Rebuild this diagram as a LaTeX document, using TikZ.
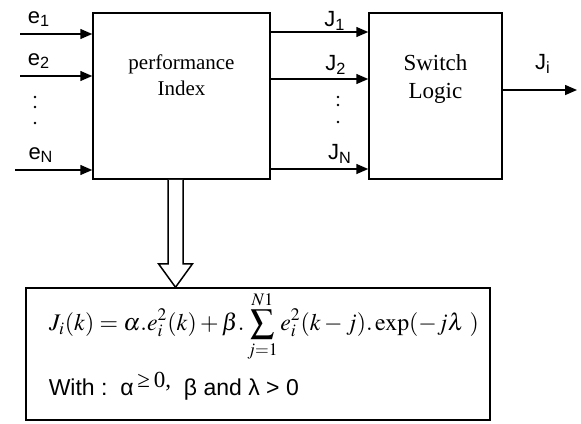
\documentclass[tikz,border=0pt]{standalone}
\usepackage{amsmath}
\usepackage{mathptmx}
\usepackage{fontspec}
\setmainfont{Liberation Serif}
\setsansfont{Liberation Sans}
\usetikzlibrary{arrows.meta,positioning,calc}
\tikzset{
    every picture/.style={x=0.5pt,y=-0.5pt,line width=0.75pt},
    block/.style={rectangle,draw,minimum width=88.5pt,minimum height=83pt,inner sep=0pt},
    blocktext/.style={font=\fontsize{10.5}{13}\selectfont,align=center},
    siglabel/.style={font=\sffamily\fontsize{11}{13}\selectfont,inner sep=1pt},
    sig/.style={-{Triangle[length=6pt,width=5pt]}},
    dotmark/.style={circle,fill,inner sep=0pt,minimum size=1.4pt}
}

\begin{document}
\begin{tikzpicture}
    \useasboundingbox (0,0) rectangle (581,423);

    % Blocks
    \node[block] (perf) at (181.5,96) {};
    \node[blocktext] (perftxt) at (181.5,75) {performance\\Index};
    \node[block,minimum width=66.5pt] (switch) at (435.5,96) {};
    \node[blocktext,font=\fontsize{11.5}{14}\selectfont] (switchtxt) at (435.5,79) {Switch\\Logic};
    \node[rectangle,draw,minimum width=232pt,minimum height=66pt,inner sep=0pt] (formula) at (258,354) {};

    % Inputs e_i
    \coordinate (e1in) at (20,34);
    \coordinate (e2in) at (20,76);
    \coordinate (eNin) at (15,170);
    \draw[sig] (e1in) -- (e1in -| perf.west);
    \draw[sig] (e2in) -- (e2in -| perf.west);
    \draw[sig] (eNin) -- (eNin -| perf.west);
    \node[siglabel] (e1) at (39,19) {e$_{\text{1}}$};
    \node[siglabel] (e2) at (39,61) {e$_{\text{2}}$};
    \node[siglabel] (eN) at (41,155) {e$_{\text{N}}$};
    \node[dotmark] (edot1) at (35,97) {};
    \node[dotmark] (edot2) at (35,107) {};
    \node[dotmark] (edot3) at (35,123) {};

    % Outputs J_i
    \coordinate (J1out) at (270,32);
    \coordinate (J2out) at (270,79);
    \coordinate (JNout) at (270,169);
    \draw[sig] (J1out) -- (J1out -| switch.west);
    \draw[sig] (J2out) -- (J2out -| switch.west);
    \draw[sig] (JNout) -- (JNout -| switch.west);
    \node[siglabel] (J1) at (335,21) {J$_{\text{1}}$};
    \node[siglabel] (J2) at (336,65) {J$_{\text{2}}$};
    \node[siglabel] (JN) at (340,154) {J$_{\text{N}}$};
    \node[dotmark] (Jdot1) at (338,97) {};
    \node[dotmark] (Jdot2) at (338,105) {};
    \node[dotmark] (Jdot3) at (338,122) {};

    % Switch output
    \coordinate (Jiout) at (577,90);
    \draw[sig] (switch.east |- Jiout) -- (Jiout);
    \node[siglabel] (Ji) at (543,64) {J$_{\text{i}}$};

    % Hollow arrow
    \draw[fill=white] ($(perf.south)+(-13.5,0)$) -- ++(0,84) -- ++(-9.5,0)
        -- ($(formula.north)+(-82.5,0)$) -- ($(perf.south)+(11,84)$)
        -- ++(-9.5,0) -- ($(perf.south)+(1.5,0)$);

    % Formula
    \node[font=\fontsize{11.9}{14}\selectfont,inner sep=0pt] (eq) at (264,326)
        {$\displaystyle J_i(k)=\alpha.e_i^2(k)+\beta.\sum_{j=1}^{N1}e_i^2(k-j).\exp(-j\lambda\ )$};
    \node[font=\sffamily\fontsize{11.5}{13}\selectfont,anchor=west,inner sep=0pt] (cond) at (48,386)
        {With :\ \ α\,\raisebox{4pt}{\rmfamily ≥\,0,}\ \ β\ and\ λ > 0};
\end{tikzpicture}
\end{document}
